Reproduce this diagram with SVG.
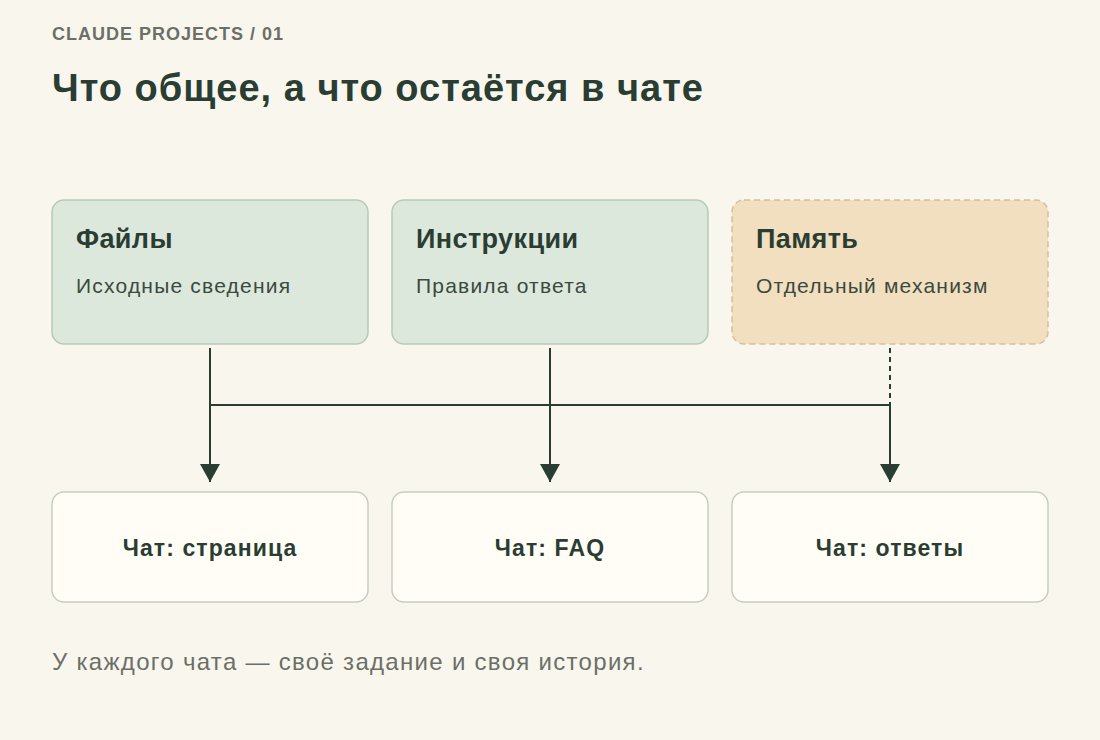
<svg xmlns="http://www.w3.org/2000/svg" width="1100" height="740" viewBox="0 0 1100 740">
<defs>
<style>
text{font-family:"Liberation Sans",Arial,sans-serif;}
.top{fill:#dde8dc;stroke:#b8c9b6;stroke-width:1.5}
.mem{fill:#f2dfbf;stroke:#d3c09f;stroke-width:1.5;stroke-dasharray:6 4}
.bot{fill:#fffdf6;stroke:#c6cec0;stroke-width:1.5}
.h{font-size:27px;font-weight:bold;fill:#2a3d33;letter-spacing:0.4px}
.s{font-size:21px;fill:#3a4a40;letter-spacing:1.2px}
.b{font-size:23px;font-weight:bold;fill:#2a3d33;text-anchor:middle;letter-spacing:1.1px}
.ln{stroke:#2a3d33;stroke-width:2;fill:none}
</style>
<marker id="ar" viewBox="0 0 18 20" refX="18" refY="10" markerWidth="18" markerHeight="20" markerUnits="userSpaceOnUse" orient="auto"><path d="M0,0 L18,10 L0,20 Z" fill="#2a3d33"/></marker>
</defs>
<rect width="1100" height="740" fill="#f9f7ed"/>
<text x="52" y="40" font-size="18" font-weight="bold" fill="#6b6f68" letter-spacing="1">CLAUDE PROJECTS / 01</text>
<text x="52" y="101" font-size="38" font-weight="bold" fill="#2a3d33" letter-spacing="1">Что общее, а что остаётся в чате</text>
<g id="files"><rect class="top" x="52" y="200" width="316" height="144" rx="12"/><text class="h" x="76" y="248">Файлы</text><text class="s" x="76" y="293">Исходные сведения</text></g>
<g id="instr"><rect class="top" x="392" y="200" width="316" height="144" rx="12"/><text class="h" x="416" y="248">Инструкции</text><text class="s" x="416" y="293">Правила ответа</text></g>
<g id="memory"><rect class="mem" x="732" y="200" width="316" height="144" rx="12"/><text class="h" x="756" y="248">Память</text><text class="s" x="756" y="293">Отдельный механизм</text></g>
<g id="connectors">
<path class="ln" d="M210,348 V482" marker-end="url(#ar)"/>
<path class="ln" d="M550,348 V482" marker-end="url(#ar)"/>
<path class="ln" d="M210,405 H890"/>
<path class="ln" d="M890,348 V405" stroke-dasharray="5 4"/>
<path class="ln" d="M890,405 V482" marker-end="url(#ar)"/>
</g>
<g id="chat1"><rect class="bot" x="52" y="492" width="316" height="110" rx="12"/><text class="b" x="210" y="556">Чат: страница</text></g>
<g id="chat2"><rect class="bot" x="392" y="492" width="316" height="110" rx="12"/><text class="b" x="550" y="556">Чат: FAQ</text></g>
<g id="chat3"><rect class="bot" x="732" y="492" width="316" height="110" rx="12"/><text class="b" x="890" y="556">Чат: ответы</text></g>
<text x="52" y="670" font-size="24" fill="#6b6f68" letter-spacing="1.3">У каждого чата — своё задание и своя история.</text>
</svg>
